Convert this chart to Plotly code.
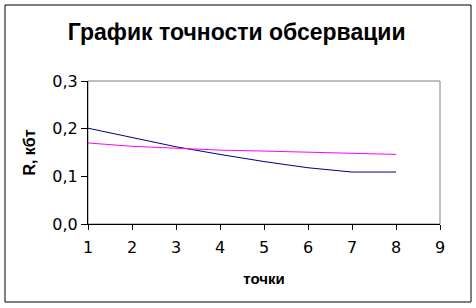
import plotly.graph_objects as go

points = [1, 2, 3, 4, 5, 6, 7, 8]
series_blue = [0.201, 0.181, 0.162, 0.146, 0.131, 0.118, 0.109, 0.109]
series_magenta = [0.170, 0.163, 0.159, 0.155, 0.153, 0.151, 0.148, 0.146]
x_ticks = [1, 2, 3, 4, 5, 6, 7, 8, 9]
y_ticks = [0.0, 0.1, 0.2, 0.3]

FONT = "Liberation Sans, Arial, sans-serif"
TFONT = "DejaVu Sans, Verdana, sans-serif"

fig = go.Figure()
fig.add_trace(go.Scatter(x=points, y=series_blue, mode="lines",
                         line=dict(color="#000080", width=1), showlegend=False))
fig.add_trace(go.Scatter(x=points, y=series_magenta, mode="lines",
                         line=dict(color="#FF00FF", width=1), showlegend=False))

L, R, T, B = 88, 36, 81, 84
W, H = 476, 308
pw, ph = W - L - R, H - T - B

fig.update_layout(
    width=W, height=H,
    margin=dict(l=L, r=R, t=T, b=B),
    paper_bgcolor="white", plot_bgcolor="white",
    separators=", ",
    font=dict(family=FONT, color="black", size=15),
    title=dict(text="<b>График точности обсервации</b>", x=(236.7) / W, xanchor="center",
               y=1 - 32 / H, yanchor="middle",
               font=dict(family=FONT, size=23, color="black")),
    xaxis=dict(range=[1, 9], tickvals=x_ticks, showgrid=False, zeroline=False,
               showline=True, linecolor="black", linewidth=1,
               ticks="outside", ticklen=5, tickcolor="black",
               tickfont=dict(family=TFONT, size=16), ticklabelstandoff=4,
               title=dict(text="<b>точки</b>", font=dict(size=15), standoff=17)),
    yaxis=dict(range=[0, 0.3], tickvals=y_ticks, tickformat=".1f", showgrid=False,
               zeroline=False, showline=True, linecolor="black", linewidth=1,
               ticks="outside", ticklen=6, tickcolor="black",
               tickfont=dict(family=TFONT, size=16),
               title=dict(text="<b>R, кбт</b>", font=dict(size=16), standoff=12)),
)

# plot area border (gray) and outer chart border (black)
fig.add_shape(type="rect", xref="paper", yref="paper", x0=0, x1=1, y0=0, y1=1,
              line=dict(color="#808080", width=1), layer="below")
fig.add_shape(type="rect", xref="paper", yref="paper",
              x0=(5 - L) / pw, x1=(471 - L) / pw,
              y0=(T + ph - 302) / ph, y1=(T + ph - 5) / ph,
              line=dict(color="black", width=1), layer="below")

fig.write_html("out.html")
